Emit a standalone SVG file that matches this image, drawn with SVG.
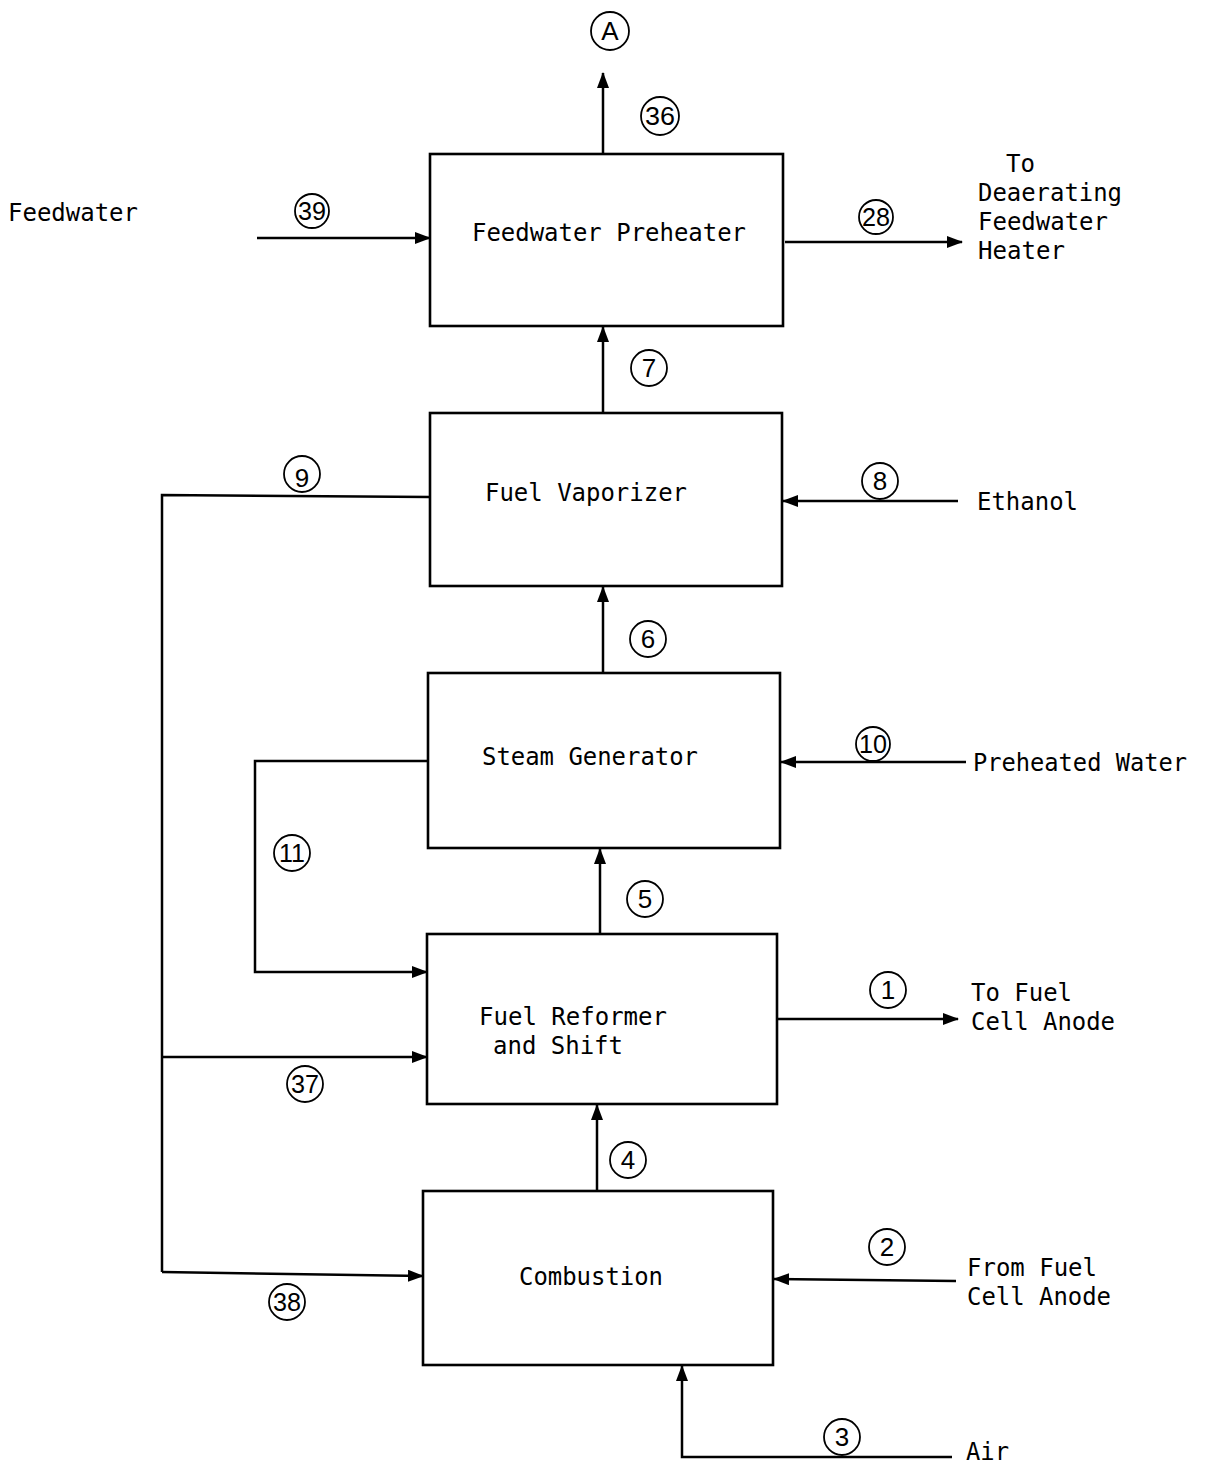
<svg xmlns="http://www.w3.org/2000/svg" width="1205" height="1467" viewBox="0 0 1205 1467">
<style>
.box{fill:#fff;stroke:#000;stroke-width:2.6}
.ln{fill:none;stroke:#000;stroke-width:2.5;stroke-linejoin:miter}
.arr{marker-end:url(#ah)}
.t{font-family:"DejaVu Sans Mono","Liberation Mono",monospace;font-size:25px;fill:#000}
.c{fill:none;stroke:#000;stroke-width:1.8}
.n{font-family:"Liberation Sans",Arial,sans-serif;font-size:26px;fill:#000;text-anchor:middle}
</style>
<defs>
<marker id="ah" markerWidth="16" markerHeight="12" refX="15" refY="6" orient="auto" markerUnits="userSpaceOnUse">
<path d="M0,0 L16,6 L0,12 z" fill="#000"/>
</marker>
</defs>
<rect width="1205" height="1467" fill="#fff"/>

<g id="connectors">
<path class="ln arr" d="M603,154 V73"/>
<path class="ln arr" d="M257,238 H430"/>
<path class="ln arr" d="M785,242 H962"/>
<path class="ln arr" d="M603,413 V327"/>
<path class="ln" d="M430,497 L162,495 L162,1272"/>
<path class="ln arr" d="M958,501 H783"/>
<path class="ln arr" d="M603,673 V587"/>
<path class="ln arr" d="M966,762 H781"/>
<path class="ln arr" d="M428,761 H255 V972 H427"/>
<path class="ln arr" d="M600,934 V849"/>
<path class="ln arr" d="M777,1019 H958"/>
<path class="ln arr" d="M162,1057 H427"/>
<path class="ln arr" d="M597,1191 V1105"/>
<path class="ln arr" d="M162,1272 L423,1276"/>
<path class="ln arr" d="M956,1281 L774,1279"/>
<path class="ln arr" d="M952,1457 H682 V1366"/>
</g>

<g id="feedwater-preheater">
<rect class="box" x="430" y="154" width="353" height="172"/>
<text class="t" x="472" y="241" textLength="274" lengthAdjust="spacingAndGlyphs">Feedwater Preheater</text>
</g>
<g id="fuel-vaporizer">
<rect class="box" x="430" y="413" width="352" height="173"/>
<text class="t" x="485" y="501" textLength="202" lengthAdjust="spacingAndGlyphs">Fuel Vaporizer</text>
</g>
<g id="steam-generator">
<rect class="box" x="428" y="673" width="352" height="175"/>
<text class="t" x="482" y="765" textLength="216" lengthAdjust="spacingAndGlyphs">Steam Generator</text>
</g>
<g id="fuel-reformer">
<rect class="box" x="427" y="934" width="350" height="170"/>
<text class="t" x="479" y="1025" textLength="188" lengthAdjust="spacingAndGlyphs">Fuel Reformer</text>
<text class="t" x="493" y="1054" textLength="130" lengthAdjust="spacingAndGlyphs">and Shift</text>
</g>
<g id="combustion">
<rect class="box" x="423" y="1191" width="350" height="174"/>
<text class="t" x="519" y="1285" textLength="144" lengthAdjust="spacingAndGlyphs">Combustion</text>
</g>

<g id="labels">
<text class="t" x="8" y="221" textLength="130" lengthAdjust="spacingAndGlyphs">Feedwater</text>
<text class="t" x="1006" y="172" textLength="29" lengthAdjust="spacingAndGlyphs">To</text>
<text class="t" x="978" y="201" textLength="144" lengthAdjust="spacingAndGlyphs">Deaerating</text>
<text class="t" x="978" y="230" textLength="130" lengthAdjust="spacingAndGlyphs">Feedwater</text>
<text class="t" x="978" y="259" textLength="87" lengthAdjust="spacingAndGlyphs">Heater</text>
<text class="t" x="977" y="510" textLength="101" lengthAdjust="spacingAndGlyphs">Ethanol</text>
<text class="t" x="973" y="771" textLength="214" lengthAdjust="spacingAndGlyphs">Preheated Water</text>
<text class="t" x="971" y="1001" textLength="101" lengthAdjust="spacingAndGlyphs">To Fuel</text>
<text class="t" x="971" y="1030" textLength="144" lengthAdjust="spacingAndGlyphs">Cell Anode</text>
<text class="t" x="967" y="1276" textLength="130" lengthAdjust="spacingAndGlyphs">From Fuel</text>
<text class="t" x="967" y="1305" textLength="144" lengthAdjust="spacingAndGlyphs">Cell Anode</text>
<text class="t" x="966" y="1460" textLength="43" lengthAdjust="spacingAndGlyphs">Air</text>
</g>

<g id="stream-A"><circle class="c" cx="610" cy="31" r="19"/><text class="n" x="610" y="40">A</text></g>
<g id="stream-36"><circle class="c" cx="660" cy="116" r="19"/><text class="n" x="660" y="125" textLength="30" lengthAdjust="spacingAndGlyphs">36</text></g>
<g id="stream-39"><circle class="c" cx="312" cy="211" r="17"/><text class="n" x="312" y="220" textLength="28" lengthAdjust="spacingAndGlyphs">39</text></g>
<g id="stream-28"><circle class="c" cx="876" cy="217" r="17"/><text class="n" x="876" y="226" textLength="28" lengthAdjust="spacingAndGlyphs">28</text></g>
<g id="stream-7"><circle class="c" cx="649" cy="368" r="18"/><text class="n" x="649" y="377">7</text></g>
<g id="stream-9"><circle class="c" cx="302" cy="474" r="18"/><text class="n" x="302" y="487">9</text></g>
<g id="stream-8"><circle class="c" cx="880" cy="481" r="18"/><text class="n" x="880" y="490">8</text></g>
<g id="stream-6"><circle class="c" cx="648" cy="639" r="18"/><text class="n" x="648" y="648">6</text></g>
<g id="stream-10"><circle class="c" cx="873" cy="744" r="17"/><text class="n" x="873" y="753" textLength="28" lengthAdjust="spacingAndGlyphs">10</text></g>
<g id="stream-11"><circle class="c" cx="292" cy="853" r="18"/><text class="n" x="292" y="862" textLength="26" lengthAdjust="spacingAndGlyphs">11</text></g>
<g id="stream-5"><circle class="c" cx="645" cy="899" r="18"/><text class="n" x="645" y="908">5</text></g>
<g id="stream-1"><circle class="c" cx="888" cy="990" r="18"/><text class="n" x="888" y="999">1</text></g>
<g id="stream-37"><circle class="c" cx="305" cy="1084" r="18"/><text class="n" x="305" y="1093" textLength="28" lengthAdjust="spacingAndGlyphs">37</text></g>
<g id="stream-4"><circle class="c" cx="628" cy="1160" r="18"/><text class="n" x="628" y="1169">4</text></g>
<g id="stream-2"><circle class="c" cx="887" cy="1247" r="18"/><text class="n" x="887" y="1256">2</text></g>
<g id="stream-38"><circle class="c" cx="287" cy="1302" r="18"/><text class="n" x="287" y="1311" textLength="28" lengthAdjust="spacingAndGlyphs">38</text></g>
<g id="stream-3"><circle class="c" cx="842" cy="1437" r="18"/><text class="n" x="842" y="1446">3</text></g>
</svg>
